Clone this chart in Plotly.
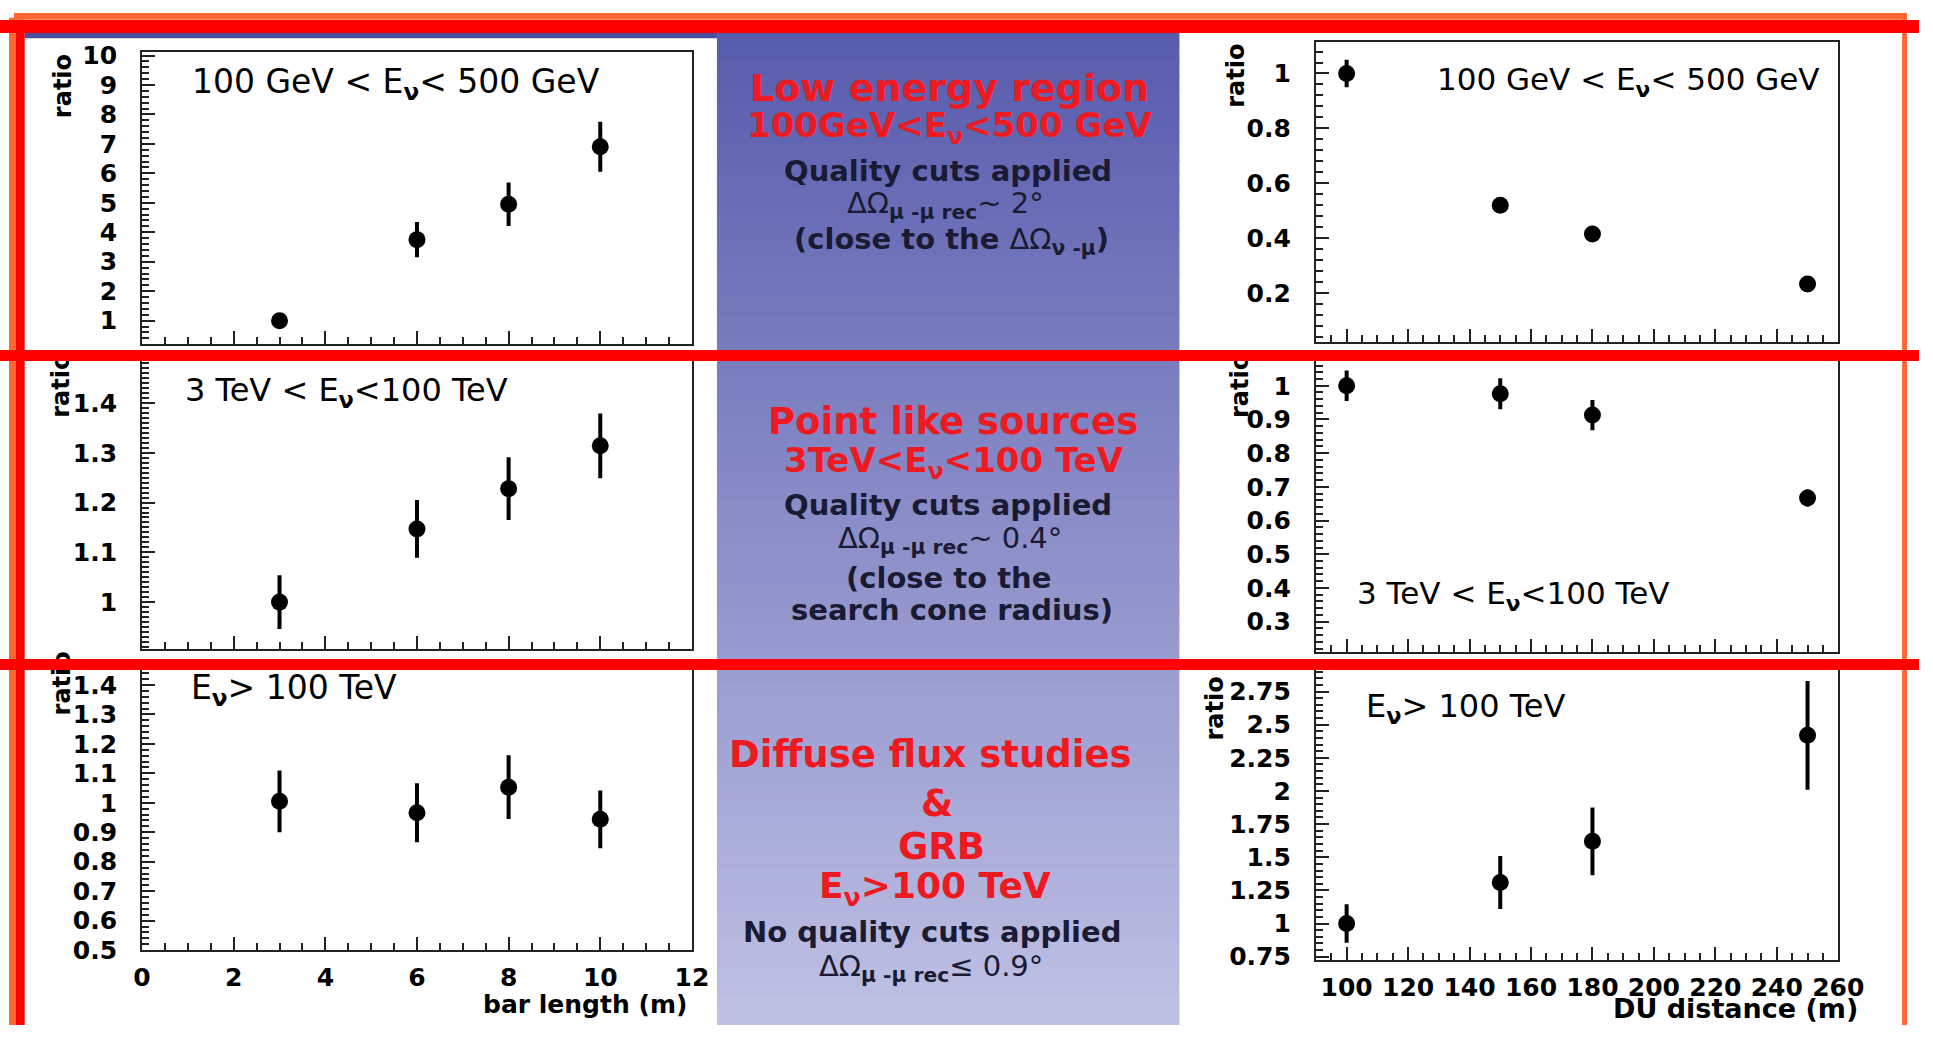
import plotly.graph_objects as go

W, H = 1933, 1040

# ---------------- data ----------------
BAR_LENGTH = [3, 6, 8, 10]
DU_DISTANCE = [100, 150, 180, 250]

LOW_BAR = [1.0, 3.75, 4.95, 6.9]
LOW_BAR_ERR = [0.15, 0.6, 0.74, 0.85]
POINT_BAR = [1.0, 1.147, 1.228, 1.314]
POINT_BAR_ERR = [0.054, 0.058, 0.063, 0.065]
DIFF_BAR = [1.005, 0.966, 1.053, 0.944]
DIFF_BAR_ERR = [0.105, 0.1, 0.108, 0.098]

LOW_DU = [1.0, 0.52, 0.415, 0.233]
LOW_DU_ERR = [0.05, 0.012, 0.012, 0.012]
POINT_DU = [1.0, 0.976, 0.913, 0.667]
POINT_DU_ERR = [0.045, 0.046, 0.045, 0.025]
DIFF_DU = [1.0, 1.31, 1.62, 2.42]
DIFF_DU_ERR = [0.145, 0.2, 0.255, 0.41]

X_TICKS_BAR = [0, 2, 4, 6, 8, 10, 12]
X_TICKS_DU = [100, 120, 140, 160, 180, 200, 220, 240, 260]
Y_TICKS_LOW_BAR = [1, 2, 3, 4, 5, 6, 7, 8, 9, 10]
Y_TICKS_POINT_BAR = [1, 1.1, 1.2, 1.3, 1.4]
Y_TICKS_DIFF_BAR = [0.5, 0.6, 0.7, 0.8, 0.9, 1, 1.1, 1.2, 1.3, 1.4]
Y_TICKS_LOW_DU = [0.2, 0.4, 0.6, 0.8, 1]
Y_TICKS_POINT_DU = [0.3, 0.4, 0.5, 0.6, 0.7, 0.8, 0.9, 1]
Y_TICKS_DIFF_DU = [0.75, 1, 1.25, 1.5, 1.75, 2, 2.25, 2.5, 2.75]


def px_x(p):
    return p / W


def px_y(p):
    return 1 - p / H


AX_COLOR = "#222222"
TICK_FONT = dict(family="DejaVu Sans", size=25, color="black", weight="bold")

panels = [
    dict(x=(135.5, 695.5), y=(42.7, 342), xr=[0, 12], yr=[0.215, 10.13],
         xt=X_TICKS_BAR, yt=Y_TICKS_LOW_BAR, xm=0.5, ym=0.2,
         xs=BAR_LENGTH, ys=LOW_BAR, es=LOW_BAR_ERR, xl=False),
    dict(x=(1331, 1863), y=(33.3, 340), xr=[90, 260], yr=[0.022, 1.113],
         xt=X_TICKS_DU, yt=Y_TICKS_LOW_DU, xm=5, ym=0.04,
         xs=DU_DISTANCE, ys=LOW_DU, es=LOW_DU_ERR, xl=False),
    dict(x=(135.5, 695.5), y=(352, 655), xr=[0, 12], yr=[0.9053, 1.4994],
         xt=X_TICKS_BAR, yt=Y_TICKS_POINT_BAR, xm=0.5, ym=0.01,
         xs=BAR_LENGTH, ys=POINT_BAR, es=POINT_BAR_ERR, xl=False),
    dict(x=(1331, 1863), y=(352, 658.3), xr=[90, 260], yr=[0.2085, 1.0956],
         xt=X_TICKS_DU, yt=Y_TICKS_POINT_DU, xm=5, ym=0.02,
         xs=DU_DISTANCE, ys=POINT_DU, es=POINT_DU_ERR, xl=False),
    dict(x=(135.5, 695.5), y=(668, 963.3), xr=[0, 12], yr=[0.5, 1.478],
         xt=X_TICKS_BAR, yt=Y_TICKS_DIFF_BAR, xm=0.5, ym=0.02,
         xs=BAR_LENGTH, ys=DIFF_BAR, es=DIFF_BAR_ERR, xl=True),
    dict(x=(1331, 1863), y=(668, 973.3), xr=[90, 260], yr=[0.726, 2.973],
         xt=X_TICKS_DU, yt=Y_TICKS_DIFF_DU, xm=5, ym=0.05,
         xs=DU_DISTANCE, ys=DIFF_DU, es=DIFF_DU_ERR, xl=True),
]

fig = go.Figure()
layout_axes = {}
for i, p in enumerate(panels, start=1):
    xid = "x" if i == 1 else f"x{i}"
    yid = "y" if i == 1 else f"y{i}"
    fig.add_trace(go.Scatter(
        x=p["xs"], y=p["ys"], mode="markers", xaxis=xid, yaxis=yid,
        marker=dict(size=17, color="black", symbol="circle"),
        error_y=dict(type="data", array=p["es"], thickness=4, width=0, color="black"),
        cliponaxis=False, showlegend=False, hoverinfo="skip",
    ))
    common = dict(showline=True, mirror=True, linecolor=AX_COLOR, linewidth=2,
                  ticks="inside", tickwidth=2, tickcolor=AX_COLOR,
                  showgrid=False, zeroline=False, tickfont=TICK_FONT,
                  tickmode="array")
    layout_axes["xaxis" if i == 1 else f"xaxis{i}"] = dict(
        common, domain=[px_x(p["x"][0]), px_x(p["x"][1])], range=p["xr"],
        anchor=yid, ticklen=13,
        tickvals=p["xt"], ticktext=[f"{v:g}" for v in p["xt"]],
        showticklabels=p["xl"], ticklabelstandoff=4,
        minor=dict(dtick=p["xm"], ticks="inside", ticklen=7, tickwidth=1.5,
                   tickcolor=AX_COLOR, showgrid=False),
    )
    layout_axes["yaxis" if i == 1 else f"yaxis{i}"] = dict(
        common, domain=[px_y(p["y"][1]), px_y(p["y"][0])], range=p["yr"],
        anchor=xid, ticklen=13,
        tickvals=p["yt"], ticktext=[f"{v:g}" for v in p["yt"]],
        ticklabelstandoff=18,
        minor=dict(dtick=p["ym"], ticks="inside", ticklen=7, tickwidth=1.5,
                   tickcolor=AX_COLOR, showgrid=False),
    )

shapes = []


def rect(x0, x1, y0, y1, color, layer="above"):
    shapes.append(dict(type="rect", xref="paper", yref="paper",
                       x0=px_x(x0), x1=px_x(x1), y0=px_y(y1), y1=px_y(y0),
                       fillcolor=color, line_width=0, layer=layer))


# center gradient panel
N = 70
top_c = (88, 92, 172)
bot_c = (190, 192, 228)
gy0, gy1 = 23, 1040
for k in range(N):
    t = k / (N - 1)
    c = tuple(round(top_c[j] + (bot_c[j] - top_c[j]) * t) for j in range(3))
    ya = gy0 + (gy1 - gy0) * k / N
    yb = min(gy1, gy0 + (gy1 - gy0) * (k + 1) / N + 1)
    rect(721, 1192, ya, yb, f"rgb({c[0]},{c[1]},{c[2]})", layer="below")
# thin dark blue strip under the top bar
rect(16, 721, 23, 29, "#4a4c9c", layer="below")
# orange outer frame (kept inside the page)
ORANGE = "#ff6633"
rect(0, 7, 8, 1040, ORANGE)
rect(5, 1933, 3, 10, ORANGE)
rect(1928, 1933, 3, 1040, ORANGE)
# left red vertical line
rect(7, 16, 10, 1040, "#fe0000")

RED = "#ee1a22"
DARK = "#1a1a33"
ann = []


def text(x, y, s, size, color="black", family="DejaVu Sans", xanchor="center", angle=0):
    ann.append(dict(x=px_x(x), y=px_y(y), xref="paper", yref="paper", text=s,
                    showarrow=False, xanchor=xanchor, yanchor="middle", textangle=angle,
                    font=dict(family=family, size=size, color=color)))


# panel labels
NU = "<sub><b>ν</b></sub>"
text(184, 75, f"100 GeV &lt; E{NU}&lt; 500 GeV", 33, xanchor="left")
text(1452.5, 73, f"100 GeV &lt; E{NU}&lt; 500 GeV", 31, xanchor="left")
text(176.8, 391.7, f"3 TeV &lt; E{NU}&lt;100 TeV", 32, xanchor="left")
text(1370.6, 600, f"3 TeV &lt; E{NU}&lt;100 TeV", 31, xanchor="left")
text(183.7, 696.7, f"E{NU}&gt; 100 TeV", 33, xanchor="left")
text(1380, 715, f"E{NU}&gt; 100 TeV", 32, xanchor="left")

# axis titles (kept fully inside the page)
text(693, 1019, "<b>bar length (m)</b>", 25, xanchor="right")
text(1885, 1023, "<b>DU distance (m)</b>", 27, xanchor="right")

# "ratio" y titles
for (rx, ry) in [(55, 78), (1250, 67), (53, 385), (1253, 385), (54, 690), (1228, 716)]:
    text(rx, ry, "<b>ratio</b>", 24, angle=-90)

# center panel texts
SUB = "<sub><b>μ -μ rec</b></sub>"
text(958, 80, "<b>Low energy region</b>", 38, RED)
text(958, 120, "<b>100GeV&lt;E<sub>ν</sub>&lt;500 GeV</b>", 34, RED)
text(956, 165, "<b>Quality cuts applied</b>", 29, DARK)
text(954, 200, f"ΔΩ{SUB}~ 2°", 29, DARK)
text(960, 236.7, "<b>(close to the </b>ΔΩ<sub><b>ν -μ</b></sub><b>)</b>", 29, DARK)

text(961, 421.7, "<b>Point like sources</b>", 37, RED)
text(962, 463.3, "<b>3TeV&lt;E<sub>ν</sub>&lt;100 TeV</b>", 34, RED)
text(956, 506.7, "<b>Quality cuts applied</b>", 29, DARK)
text(958, 543.3, f"ΔΩ{SUB}~ 0.4°", 29, DARK)
text(957, 581.7, "<b>(close to the</b>", 29, DARK)
text(960, 615, "<b>search cone radius)</b>", 29, DARK)

text(939, 763.3, "<b>Diffuse flux studies</b>", 37, RED)
text(945, 813.3, "<b>&amp;</b>", 37, RED)
text(950, 856.7, "<b>GRB</b>", 37, RED)
text(943, 900, "<b>E<sub>ν</sub>&gt;100 TeV</b>", 36, RED)
text(940, 945, "<b>No quality cuts applied</b>", 29, DARK)
text(939, 981.7, f"ΔΩ{SUB}≤ 0.9°", 29, DARK)

# red horizontal bars (as annotations so they cover the clipped titles)
for (cy, hh) in [(16.5, 13), (353.5, 11), (670.5, 11)]:
    ann.append(dict(x=px_x(967.5), y=px_y(cy), xref="paper", yref="paper", text=" ",
                    showarrow=False, xanchor="center", yanchor="middle",
                    width=1921, height=hh, bgcolor="#fe0000", borderpad=0, borderwidth=0,
                    font=dict(size=1)))

fig.update_layout(
    width=W, height=H, margin=dict(l=0, r=0, t=0, b=0),
    paper_bgcolor="white", plot_bgcolor="white", showlegend=False,
    shapes=shapes, annotations=ann, **layout_axes,
)

# remove the default page margin right away (runs synchronously after newPlot is called)
BODY_FIX = ("}); try { document.body.style.margin='0px'; "
            "document.body.style.overflow='hidden'; } catch (e) {} (function(){")

fig.write_html(
    "out.html",
    config={"responsive": False, "displayModeBar": False},
    post_script=BODY_FIX,
)
